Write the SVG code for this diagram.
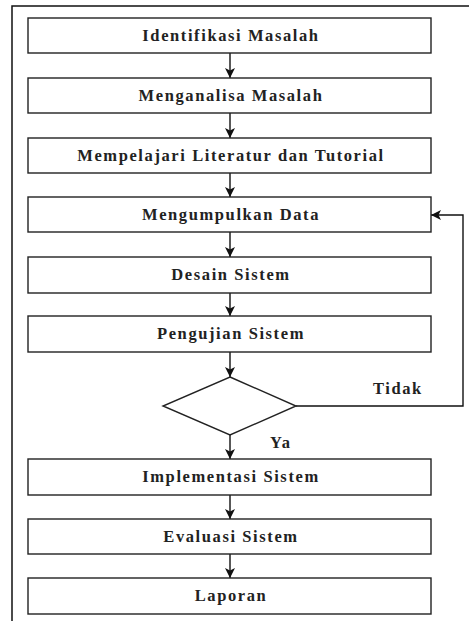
<svg xmlns="http://www.w3.org/2000/svg" width="469" height="621" viewBox="0 0 469 621">
<style>
.box{fill:#fff;stroke:#222;stroke-width:1.4}
text{font-weight:bold;font-size:16.5px;letter-spacing:1.6px;fill:#222}
.t{text-anchor:middle}
.c{fill:none;stroke:#111;stroke-width:1.4}
</style>
<defs>
<marker id="ah" markerWidth="10" markerHeight="10" viewBox="0 0 10 10" refX="10" refY="5" orient="auto" markerUnits="userSpaceOnUse">
<path d="M0,0 L10,5 L0,10 L2.5,5 Z" fill="#111"/>
</marker>
</defs>
<rect x="0" y="0" width="469" height="621" fill="#fff"/>
<path d="M12,621 V6 H469" fill="none" stroke="#111" stroke-width="1.5"/>
<g font-family="Liberation Serif, Times New Roman, Times, serif">
<g id="connectors">
<line class="c" x1="230" y1="53" x2="230" y2="78" marker-end="url(#ah)"/>
<line class="c" x1="230" y1="113" x2="230" y2="138" marker-end="url(#ah)"/>
<line class="c" x1="230" y1="173" x2="230" y2="197" marker-end="url(#ah)"/>
<line class="c" x1="230" y1="232" x2="230" y2="257" marker-end="url(#ah)"/>
<line class="c" x1="230" y1="293" x2="230" y2="316" marker-end="url(#ah)"/>
<line class="c" x1="230" y1="352" x2="230" y2="377" marker-end="url(#ah)"/>
<line class="c" x1="230" y1="435" x2="230" y2="459" marker-end="url(#ah)"/>
<line class="c" x1="230" y1="495" x2="230" y2="519" marker-end="url(#ah)"/>
<line class="c" x1="230" y1="554" x2="230" y2="578" marker-end="url(#ah)"/>
<path class="c" d="M296,406 H463 V215 H431" marker-end="url(#ah)"/>
<text x="373" y="394">Tidak</text>
<text x="270" y="448">Ya</text>
</g>
<g id="n1"><rect class="box" x="28" y="18" width="403" height="35"/><text class="t" x="231" y="41">Identifikasi Masalah</text></g>
<g id="n2"><rect class="box" x="28" y="78" width="403" height="35"/><text class="t" x="231" y="101">Menganalisa Masalah</text></g>
<g id="n3"><rect class="box" x="28" y="138" width="403" height="35"/><text class="t" x="231" y="161">Mempelajari Literatur dan Tutorial</text></g>
<g id="n4"><rect class="box" x="28" y="197" width="403" height="35"/><text class="t" x="231" y="220">Mengumpulkan Data</text></g>
<g id="n5"><rect class="box" x="28" y="257" width="403" height="36"/><text class="t" x="231" y="280">Desain Sistem</text></g>
<g id="n6"><rect class="box" x="28" y="316" width="403" height="36"/><text class="t" x="231" y="339">Pengujian Sistem</text></g>
<g id="n7"><polygon class="box" points="230,377 296,406 230,435 163,406"/></g>
<g id="n8"><rect class="box" x="28" y="459" width="403" height="36"/><text class="t" x="231" y="482">Implementasi Sistem</text></g>
<g id="n9"><rect class="box" x="28" y="519" width="403" height="35"/><text class="t" x="231" y="542">Evaluasi Sistem</text></g>
<g id="n10"><rect class="box" x="28" y="578" width="403" height="36"/><text class="t" x="231" y="601">Laporan</text></g>
</g>
</svg>
